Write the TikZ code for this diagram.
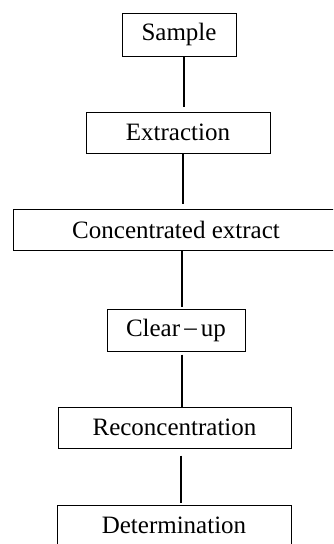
\documentclass[tikz,border=0pt]{standalone}
\usepackage{fontspec}
\setmainfont{Liberation Serif}
\begin{document}
\begin{tikzpicture}[x=1pt,y=-1pt,
  box/.style={draw, line width=1pt, inner sep=0pt, font=\fontsize{25}{28}\selectfont},
  conn/.style={line width=1.2pt}]
\useasboundingbox (0,0) rectangle (333,544);
\clip (0,0) rectangle (333,544);
\node[box, minimum width=114pt, minimum height=43pt] (sample) at (179,34.5) {Sample};
\node[box, minimum width=184pt, minimum height=41pt] (extraction) at (178,132.5) {Extraction};
\node[box, minimum width=326pt, minimum height=41pt] (conc) at (176,229.5) {Concentrated extract};
\node[box, minimum width=138pt, minimum height=42pt] (clear) at (176,330) {Clear\,\raisebox{0.5pt}{–}\,up};
\node[box, minimum width=233pt, minimum height=41pt] (recon) at (174.5,427.5) {Reconcentration};
\node[box, minimum width=234pt, minimum height=41pt] (det) at (174,525.5) {Determination};
\draw[conn, shorten >=5pt] (sample.south -| 184,0) -- (extraction.north -| 184,0);
\draw[conn, shorten >=5pt] (extraction.south -| 183,0) -- (conc.north -| 183,0);
\draw[conn, shorten >=2pt] (conc.south -| 182,0) -- (clear.north -| 182,0);
\draw[conn, shorten <=3pt] (clear.south -| 182,0) -- (recon.north -| 182,0);
\draw[conn, shorten <=7pt, shorten >=2pt] (recon.south -| 181,0) -- (det.north -| 181,0);
\end{tikzpicture}
\end{document}
